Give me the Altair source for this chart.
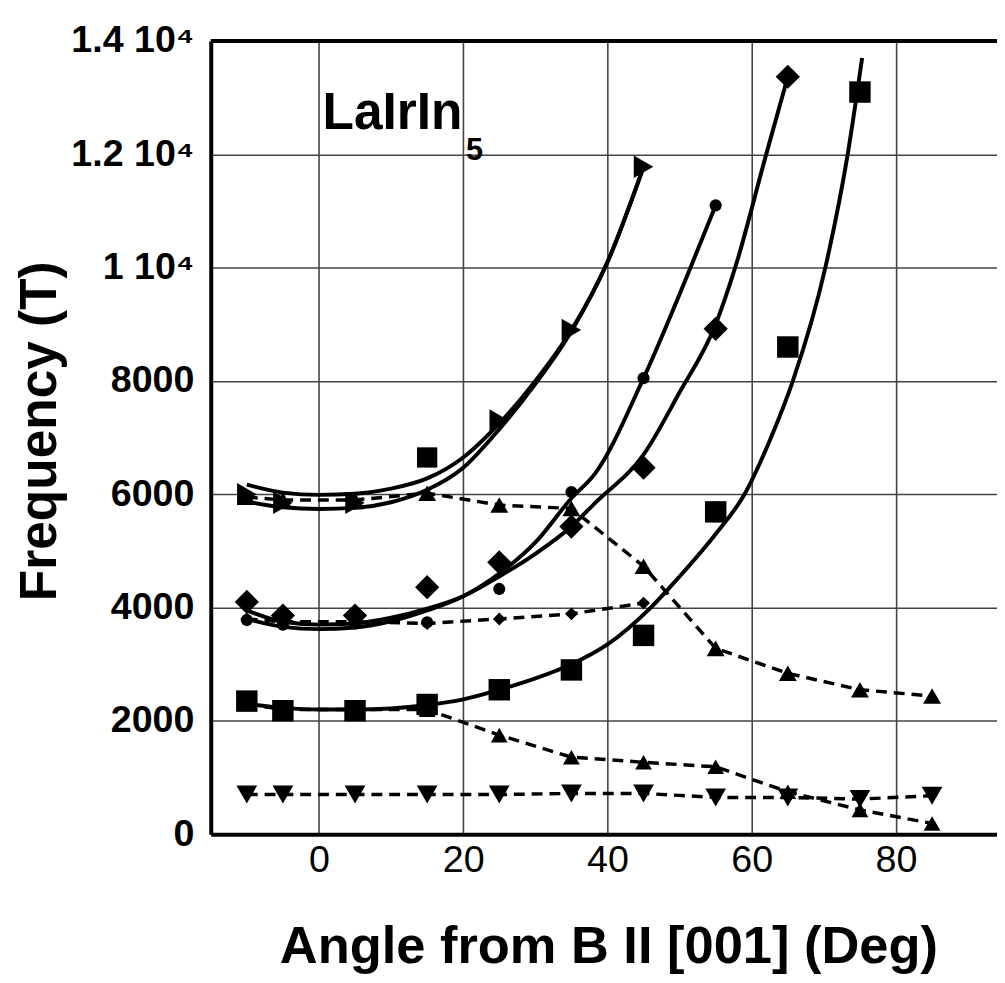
import altair as alt
import pandas as pd

# ---------------- data ----------------
ANGLES = [-10, -5, 5, 15, 25, 35, 45, 55, 65, 75, 85]

# measured points (Frequency in T)
SQUARE_X = [-10, -5, 5, 15, 25, 35, 45, 55, 65, 75]
SQUARE_F = [2350, 2180, 2180, 2290, 2550, 2900, 3510, 5690, 8600, 13100]

DIAMOND_X = [-10, -5, 5, 15, 25, 35, 45, 55, 65]
DIAMOND_F = [4100, 3860, 3860, 4360, 4800, 5430, 6470, 8920, 13370]

DOT_X = [-10, -5, 5, 15, 25, 35, 45, 55]
DOT_F = [3780, 3700, 3720, 3740, 4330, 6040, 8050, 11100]

TRI_X = [-10, -5, 5, 25, 35, 45]
TRI_F = [6000, 5850, 5850, 7300, 8900, 11780]
TRI_SQ_X = [15]
TRI_SQ_F = [6650]

DASH_HI_F = [5950, 5900, 5900, 6020, 5810, 5750, 4730, 3280, 2840, 2550, 2440]
DASH_LO_F = [2300, 2200, 2200, 2200, 1750, 1360, 1270, 1190, 750, 430, 190]
DASH_SMALL_X = [-10, -5, 5, 15, 25, 35, 45]
DASH_SMALL_F = [3800, 3750, 3750, 3720, 3800, 3890, 4080]
DASH_DOWN_F = [700, 700, 700, 700, 700, 720, 720, 650, 650, 620, 680]

# fitted solid curves
FIT_SQ_X = [-10, -5, 0, 5, 10, 15, 20, 25, 30, 35, 40, 46, 50, 55, 59, 62.5, 65.7, 70.2, 73.3, 75.3]
FIT_SQ_F = [2300, 2230, 2200, 2200, 2220, 2280, 2380, 2550, 2750, 3000, 3350, 4000, 4550, 5300, 6000, 6950, 8000, 10000, 12000, 13700]

FIT_DIA_X = [-10, -5, 0, 5, 10, 15, 20, 25, 30, 35, 38.3, 45, 50, 55, 57.7, 62, 65]
FIT_DIA_F = [3950, 3750, 3700, 3720, 3820, 3980, 4200, 4550, 4950, 5430, 5850, 6700, 7800, 9000, 10000, 12000, 13370]

FIT_DOT_X = [-10, -5, 0, 5, 10, 15, 20, 25, 30, 35, 38.3, 45, 51.5, 55]
FIT_DOT_F = [3800, 3660, 3620, 3650, 3760, 3950, 4200, 4600, 5150, 5930, 6370, 8050, 10000, 11100]

FIT_TRI_UP_X = [-10, -5, 0, 5, 10, 15, 20, 25, 30, 35, 40, 45]
FIT_TRI_UP_F = [6170, 6030, 5990, 6010, 6100, 6280, 6650, 7250, 8000, 8900, 10100, 11780]
FIT_TRI_LO_X = [-10, -5, 0, 5, 10, 15, 20, 25, 30, 35, 40, 45]
FIT_TRI_LO_F = [5870, 5770, 5740, 5760, 5860, 6080, 6470, 7150, 7950, 8880, 10100, 11780]

Y_TICKS = [0, 2000, 4000, 6000, 8000, 10000, 12000, 14000]
X_TICKS = [0, 20, 40, 60, 80]

# ---------------- tables ----------------
def table(name, xs, fs):
    return pd.DataFrame({"series": name, "angle": xs, "freq": fs})

dashed = pd.concat([
    table("dash_hi", ANGLES, DASH_HI_F),
    table("dash_lo", ANGLES, DASH_LO_F),
    table("dash_small", DASH_SMALL_X, DASH_SMALL_F),
    table("dash_down", ANGLES, DASH_DOWN_F),
], ignore_index=True)

fits = pd.concat([
    table("fit_sq", FIT_SQ_X, FIT_SQ_F),
    table("fit_dia", FIT_DIA_X, FIT_DIA_F),
    table("fit_dot", FIT_DOT_X, FIT_DOT_F),
    table("fit_tri_up", FIT_TRI_UP_X, FIT_TRI_UP_F),
    table("fit_tri_lo", FIT_TRI_LO_X, FIT_TRI_LO_F),
], ignore_index=True)

W, H = 795, 802
FONT = "Liberation Sans, Arial, Helvetica, sans-serif"

x_enc = alt.X("angle:Q",
              scale=alt.Scale(domain=[-15, 94], nice=False, zero=False),
              axis=alt.Axis(values=X_TICKS, title="Angle from B II [001] (Deg)",
                            grid=True, ticks=False, labelPadding=8,
                            labelFontSize=38, labelFont=FONT, labelFontWeight="normal",
                            labelColor="black",
                            titleFontSize=53, titleFont=FONT, titleFontWeight="bold",
                            titleColor="black",
                            titleX=402, titleY=114, titleAnchor="middle",
                            titleAlign="center", titleBaseline="middle",
                            domainColor="black", domainWidth=4,
                            gridColor="#444", gridWidth=1.6))
y_enc = alt.Y("freq:Q",
              scale=alt.Scale(domain=[0, 14000], nice=False, zero=True),
              axis=alt.Axis(values=Y_TICKS, title="Frequency (T)",
                            grid=True, ticks=False, labelPadding=17,
                            labelExpr="datum.value >= 10000 ? (datum.value / 10000) + ' 10⁴' : '' + datum.value",
                            labelFontSize=38, labelFont=FONT, labelFontWeight="bold",
                            labelColor="black",
                            titleFontSize=52, titleFont=FONT, titleFontWeight="bold",
                            titleColor="black", titleAngle=270,
                            titleX=-173, titleY=394, titleAlign="center",
                            titleBaseline="middle",
                            domainColor="black", domainWidth=4,
                            gridColor="#444", gridWidth=1.6))

dash_layer = alt.Chart(dashed).mark_line(
    color="black", strokeWidth=3.5, strokeDash=[11, 7]
).encode(x=x_enc, y=y_enc, detail="series:N", order="angle:Q")

fit_layer = alt.Chart(fits).mark_line(
    color="black", strokeWidth=4, interpolate="monotone"
).encode(x="angle:Q", y="freq:Q", detail="series:N", order="angle:Q")

# one point layer per marker kind, each with its own fixed shape and size
MARKERS = [
    (SQUARE_X, SQUARE_F, "square", 470),
    (DIAMOND_X, DIAMOND_F, "diamond", 600),
    (DOT_X, DOT_F, "circle", 150),
    (TRI_X, TRI_F, "triangle-right", 520),
    (TRI_SQ_X, TRI_SQ_F, "square", 420),
    (ANGLES, DASH_HI_F, "triangle-up", 330),
    (ANGLES, DASH_LO_F, "triangle-up", 290),
    (DASH_SMALL_X, DASH_SMALL_F, "diamond", 170),
    (ANGLES, DASH_DOWN_F, "triangle-down", 440),
]
point_layers = []
for xs, fs, shp, sz in MARKERS:
    point_layers.append(
        alt.Chart(table(shp, xs, fs)).mark_point(
            filled=True, color="black", opacity=1, strokeWidth=0, shape=shp, size=sz
        ).encode(x="angle:Q", y="freq:Q")
    )

label_df = pd.DataFrame({"angle": [0.5], "freq": [12440], "txt": ["LaIrIn"]})
sub_df = pd.DataFrame({"angle": [20.4], "freq": [11900], "txt": ["5"]})
label_layer = alt.Chart(label_df).mark_text(
    align="left", baseline="alphabetic", fontSize=52, fontWeight="bold", font=FONT, color="black"
).encode(x="angle:Q", y="freq:Q", text="txt:N")
sub_layer = alt.Chart(sub_df).mark_text(
    align="left", baseline="alphabetic", fontSize=31, fontWeight="bold", font=FONT, color="black"
).encode(x="angle:Q", y="freq:Q", text="txt:N")

top_border = alt.Chart(pd.DataFrame({"k": [0]})).mark_rule(
    color="black", strokeWidth=4
).encode(x=alt.value(0), x2=alt.value(W), y=alt.value(0))

chart = alt.layer(
    dash_layer, fit_layer, *point_layers, label_layer, sub_layer, top_border
).properties(
    width=W, height=H,
    autosize=alt.AutoSizeParams(type="none"),
    padding={"left": 205, "top": 28, "right": 0, "bottom": 145},
    background="white",
).configure_view(stroke=None)

chart.save("out.html", embed_options={"renderer": "svg", "actions": False})
